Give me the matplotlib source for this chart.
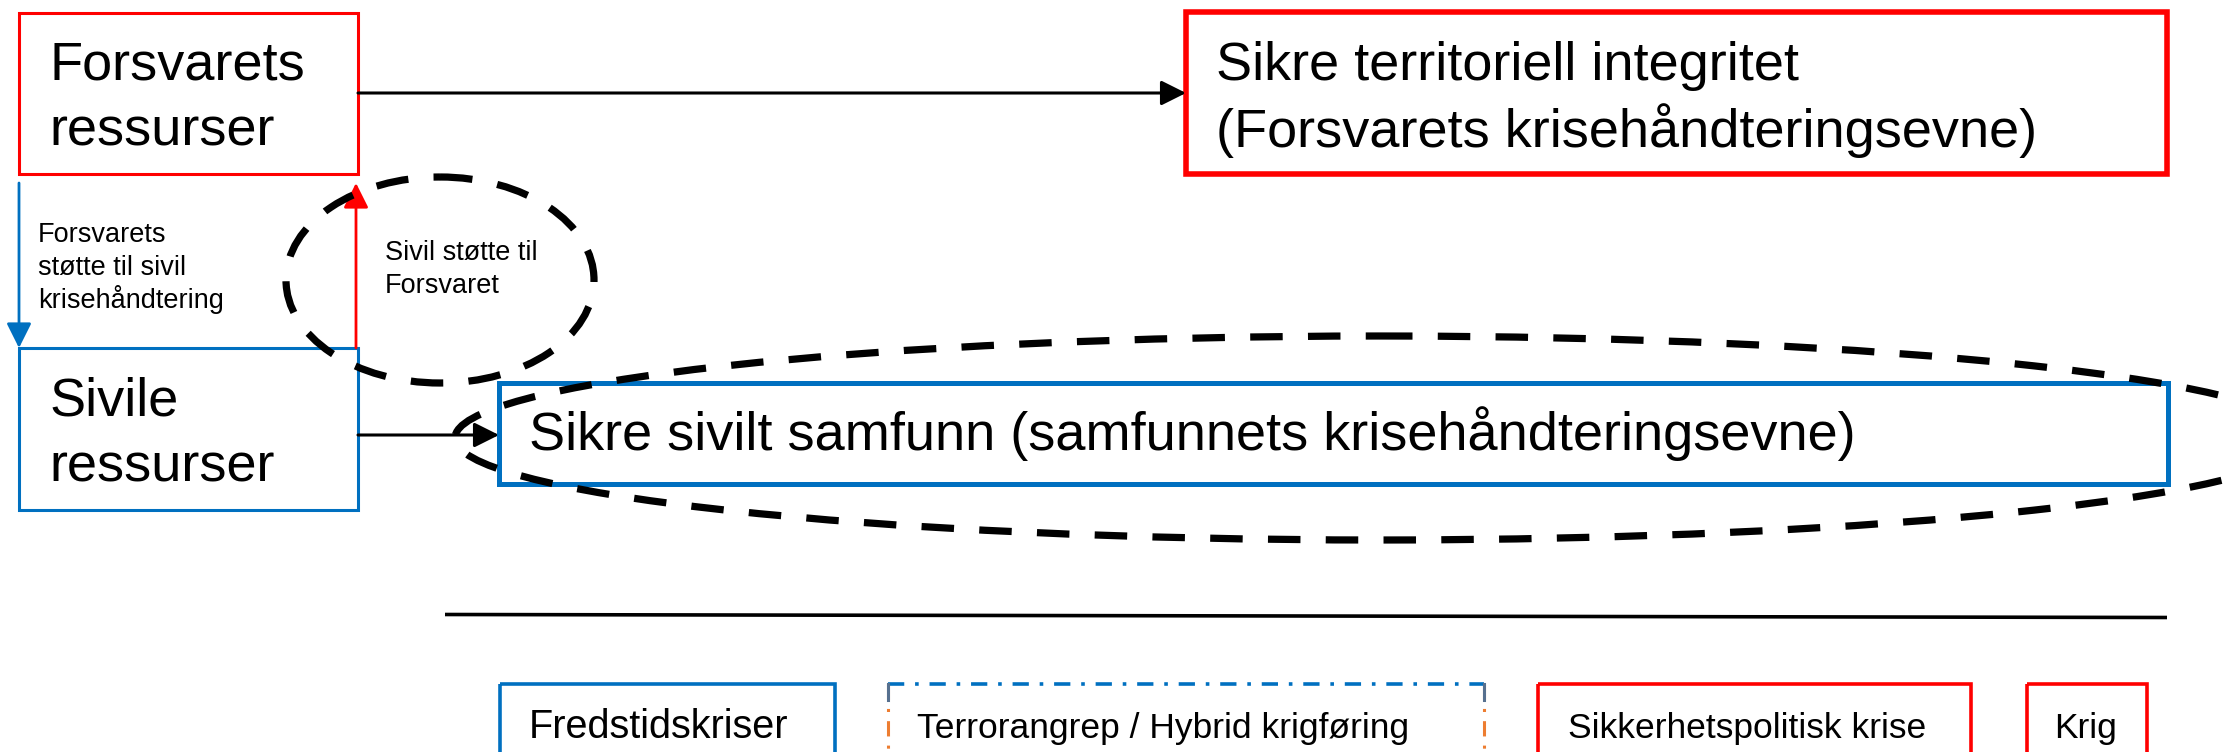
import matplotlib
matplotlib.use('Agg')
import matplotlib.pyplot as plt
from matplotlib.patches import Rectangle, Ellipse, FancyArrowPatch

plt.rcParams['font.family'] = ['Liberation Sans', 'DejaVu Sans']

# ---- content ----
resource_labels = [["Forsvarets", "ressurser"], ["Sivile", "ressurser"]]
goal_labels = [["Sikre territoriell integritet", "(Forsvarets krisehåndteringsevne)"],
               ["Sikre sivilt samfunn (samfunnets krisehåndteringsevne)"]]
support_labels = [["Forsvarets", "støtte til sivil", "krisehåndtering"],
                  ["Sivil støtte til", "Forsvaret"]]
crisis_levels = ["Fredstidskriser", "Terrorangrep / Hybrid krigføring",
                 "Sikkerhetspolitisk krise", "Krig"]

RED = '#FF0000'
BLUE = '#0070C0'
ORANGE = '#ED7D31'

W, H = 2239, 752
fig = plt.figure(figsize=(W / 100, H / 100), dpi=100)
ax = fig.add_axes([0, 0, 1, 1])
ax.set_xlim(0, W)
ax.set_ylim(H, 0)
ax.axis('off')

BIG = 39
SMALL = 19.5


def box(x0, y0, x1, y1, color, lw, ls='-'):
    ax.add_patch(Rectangle((x0, y0), x1 - x0, y1 - y0, fill=False,
                           edgecolor=color, lw=lw, ls=ls, joinstyle='miter', zorder=2))


def arrow(p0, p1, color, lw):
    ax.add_patch(FancyArrowPatch(p0, p1, arrowstyle='-|>', mutation_scale=38,
                                 color=color, lw=lw, shrinkA=0, shrinkB=0, zorder=3))


def lines(x, baselines, texts, size):
    for b, t in zip(baselines, texts):
        ax.text(x, b, t, fontsize=size, va='baseline', ha='left', color='black', zorder=5)


# resource boxes
box(19, 13, 358, 174, RED, 2.2)
box(19, 348, 358, 510, BLUE, 2.2)
lines(49, [80, 146], resource_labels[0], BIG)
lines(49, [415, 482], resource_labels[1], BIG)

# goal boxes
box(1186, 12, 2167, 174, RED, 4)
lines(1216, [80, 147], goal_labels[0], BIG)
box(499, 383, 2168, 484, BLUE, 3.6)
lines(529, [450], goal_labels[1], BIG)

# arrows
arrow((358, 93), (1186, 93), 'black', 2.2)
arrow((358, 435), (499, 435), 'black', 2.2)
arrow((19, 183), (19, 348), BLUE, 2.0)
arrow((356, 348), (356, 183), RED, 2.0)

# support labels
lines(38, [242, 275, 308], support_labels[0], SMALL)
lines(385, [260, 293], support_labels[1], SMALL)

# dashed ellipses
ax.add_patch(Ellipse((440, 280), 308, 206, fill=False, edgecolor='black', lw=5.2,
                     ls=(0, (4.5, 3.5)), zorder=4))
ax.add_patch(Ellipse((1380, 438), 1850, 204, fill=False, edgecolor='black', lw=5.2,
                     ls=(0, (4.5, 3.5)), zorder=4))

# separator line
ax.plot([445, 2167], [614.5, 617.5], color='black', lw=2.6, solid_capstyle='butt', zorder=2)

# crisis level boxes (bottom, cut off)
crisis_box_x = [(500, 835), (888, 1484), (1538, 1971), (2027, 2147)]
crisis_text_x = [529, 917, 1568, 2054]
crisis_font_sizes = [28.5, 25.5, 25.5, 25.5]
crisis_colors = [BLUE, BLUE, RED, RED]
top = 684
for i, ((x0, x1), tx, lab, col, fs) in enumerate(zip(crisis_box_x, crisis_text_x, crisis_levels,
                                                     crisis_colors, crisis_font_sizes)):
    if i == 1:
        ax.plot([x0, x1], [top, top], color=BLUE, lw=2.6, ls=(0, (4.5, 3, 1, 3)), zorder=2)
        for xs in (x0, x1):
            ax.plot([xs, xs], [top, H + 10], color=ORANGE, lw=2.2, ls=(0, (5, 3, 1, 3)), zorder=2)
            ax.plot([xs, xs], [top, top + 16], color='#56708f', lw=2.2, zorder=2)
    else:
        box(x0, top, x1, H + 40, col, 2.6)
    ax.text(tx, 738, lab, fontsize=fs, va='baseline', ha='left', color='black', zorder=5)

fig.savefig('out.png', dpi=100, facecolor='white')
